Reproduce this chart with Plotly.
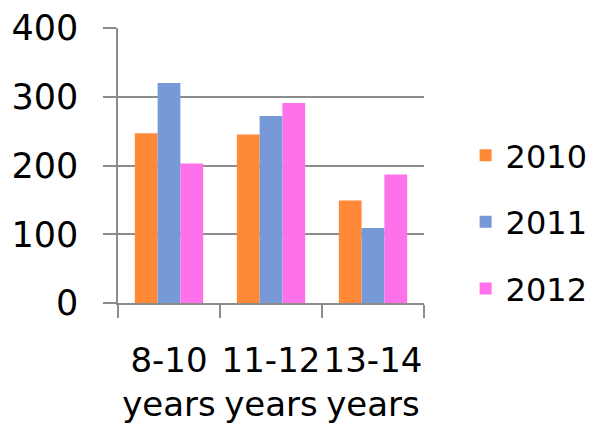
import plotly.graph_objects as go

categories = ["8-10<br>years", "11-12<br>years", "13-14<br>years"]
years = ["2010", "2011", "2012"]
values_2010 = [247, 245, 149]
values_2011 = [320, 272, 109]
values_2012 = [203, 291, 187]
colors = ["#FF8936", "#7799D8", "#FF71EB"]
y_ticks = [0, 100, 200, 300, 400]

series = [values_2010, values_2011, values_2012]

fig = go.Figure()
for name, vals, col in zip(years, series, colors):
    fig.add_trace(go.Bar(
        x=categories, y=vals, name=name,
        marker=dict(color=col, line=dict(width=0)),
        legendgroup=name,
    ))

FONT = "DejaVu Sans"
grid_col = "#8C8C8C"

fig.update_layout(
    width=596, height=426,
    margin=dict(l=110, r=180, t=20, b=131, autoexpand=False),
    paper_bgcolor="white", plot_bgcolor="white",
    barmode="group", bargap=0.33, bargroupgap=0,
    font=dict(family=FONT, size=32, color="black"),
    legend=dict(
        x=1.136, y=0.295, xanchor="left", yanchor="middle",
        font=dict(family=FONT, size=32, color="black"),
        traceorder="grouped", tracegroupgap=22,
        itemwidth=30,
    ),
    xaxis=dict(
        automargin=False,
        showline=True, linecolor=grid_col, linewidth=1.5,
        ticks="outside", tickson="boundaries", ticklen=13,
        tickcolor=grid_col, tickwidth=1.5,
        showgrid=False, tickangle=0,
        tickfont=dict(family=FONT, size=34),
        ticklabelstandoff=26,
    ),
    yaxis=dict(
        automargin=False,
        range=[0, 400], tickvals=y_ticks,
        showline=True, linecolor=grid_col, linewidth=1.5,
        ticks="outside", ticklen=13, tickcolor=grid_col, tickwidth=1.5,
        showgrid=True, gridcolor=grid_col, gridwidth=1.5,
        zeroline=False,
        tickfont=dict(family=FONT, size=35),
        ticklabelstandoff=18,
    ),
)

fig.write_html("out.html")
